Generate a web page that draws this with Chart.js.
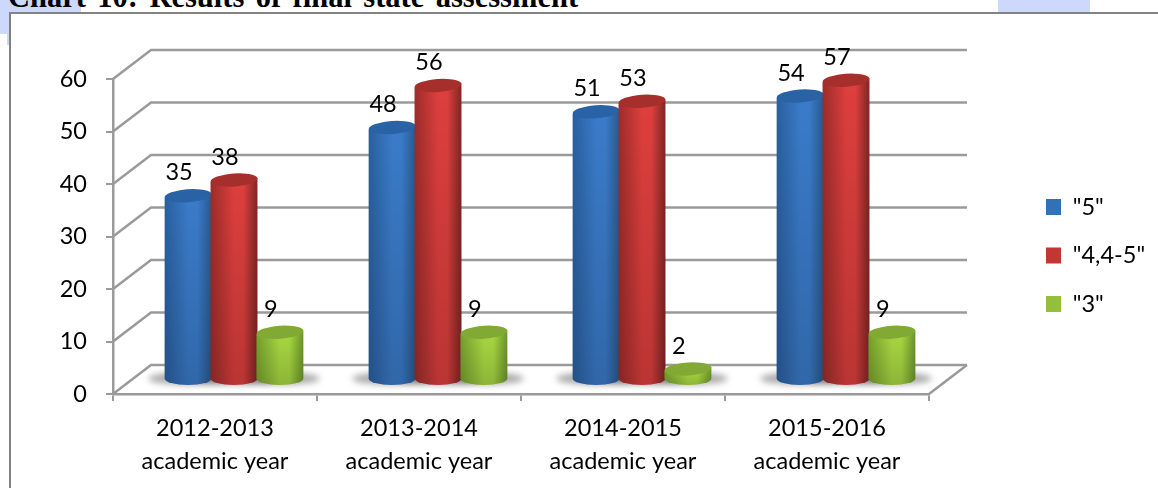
<!DOCTYPE html>
<html>
<head>
<meta charset="utf-8">
<title>Chart 10</title>
<script src="https://cdn.jsdelivr.net/npm/chart.js@4"></script>
<style>
  html, body { margin: 0; padding: 0; background: #fff; overflow: hidden; }
  #page { position: relative; width: 1158px; height: 488px; overflow: hidden; }
  .patch { position: absolute; background: #ccd9fd; }
  #frame { position: absolute; left: 9px; top: 12px; width: 1300px; height: 700px; border: 2px solid #828282; }
  #heading { position: absolute; left: 8px; top: -21px; font: bold 30.5px "Liberation Serif", serif; color: #000; white-space: nowrap; word-spacing: 3.8px; line-height: 36px; }
  canvas { position: absolute; left: 0; top: 0; }
</style>
</head>
<body>
<div id="page">
  <div class="patch" style="left:0;top:0;width:81px;height:12px"></div>
  <div class="patch" style="left:0;top:12px;width:9px;height:22px"></div>
  <div class="patch" style="left:7px;top:34px;width:2px;height:11px"></div>
  <div class="patch" style="left:998px;top:0;width:92px;height:12px"></div>
  <div id="frame"></div>
  <div id="heading">Chart 10: Results of final state assessment</div>
  <canvas id="chart" width="1158" height="488"></canvas>
</div>
<script>
const categories = [
  ['2012-2013', 'academic year'],
  ['2013-2014', 'academic year'],
  ['2014-2015', 'academic year'],
  ['2015-2016', 'academic year'],
]
const seriesNames = ['"5"', '"4,4-5"', '"3"']
const grade5 = [35, 48, 51, 54]
const grade4 = [38, 56, 53, 57]
const grade3 = [9, 9, 2, 9]
const yTicks = [0, 10, 20, 30, 40, 50, 60]

// edge / centre / cap colours of each cylinder
const shades = [
  { left: '#2a5f9f', mid: '#3a7bc9', right: '#28598f', cap: '#2a62a6', legend: '#3270b8' },
  { left: '#9c2c2a', mid: '#dd3f3d', right: '#7f2624', cap: '#a62f2c', legend: '#c43633' },
  { left: '#76a02e', mid: '#a7d842', right: '#6d962b', cap: '#82a934', legend: '#94bf38' },
]

const font = 'Lato, sans-serif'
const fontSize = 23.5
const legendPadding = 25
const lineColor = '#9a9a9a'

// how far the back wall sits behind the front plane
const depthX = 38
const depthY = 29

function strokePath(ctx, points) {
  ctx.beginPath()
  points.forEach((p, i) => (i ? ctx.lineTo(p[0], p[1]) : ctx.moveTo(p[0], p[1])))
  ctx.stroke()
}

const wallPlugin = {
  id: 'wall',
  beforeDraw(chart) {
    const { ctx, chartArea, scales } = chart
    const { left, right } = chartArea
    ctx.save()
    ctx.strokeStyle = lineColor
    ctx.lineWidth = 2.5
    yTicks.forEach((v) => {
      const y = scales.y.getPixelForValue(v)
      strokePath(ctx, [
        [left, y],
        [left + depthX, y - depthY],
        [right + depthX, y - depthY],
      ])
    })
    const y0 = scales.y.getPixelForValue(0)
    strokePath(ctx, [
      [right + depthX, y0 - depthY],
      [right, y0],
    ])
    ctx.restore()
  },
  afterLayout(chart) {
    // legend sits out in the right margin, away from the chart area
    const legend = chart.legend
    const w = legend.width
    const h = legend.height
    legend.left = 1046 - legendPadding
    legend.right = legend.left + w
    legend.top = 199 - legendPadding - (fontSize - 16) / 2
    legend.bottom = legend.top + h
  },
}

function drawCylinder(ctx, bar, shade) {
  const dx = depthX / 2
  const dy = depthY / 2
  const cx = bar.x + dx
  const r = bar.width / 2 + 0.5
  const ry = 6.5
  const tilt = -0.07
  const top = bar.y - dy
  const bottom = bar.base - dy

  ctx.save()
  const side = ctx.createLinearGradient(cx - r, 0, cx + r, 0)
  side.addColorStop(0, shade.left)
  side.addColorStop(0.5, shade.mid)
  side.addColorStop(0.7, shade.mid)
  side.addColorStop(1, shade.right)
  ctx.fillStyle = side
  ctx.beginPath()
  ctx.moveTo(cx - r, top + 2)
  ctx.lineTo(cx - r, bottom)
  ctx.ellipse(cx, bottom, r, ry, 0, Math.PI, 0, true)
  ctx.lineTo(cx + r, top - 2)
  ctx.closePath()
  ctx.fill()

  const fade = ctx.createLinearGradient(0, top, 0, bottom + ry)
  fade.addColorStop(0, 'rgba(0,0,0,0)')
  fade.addColorStop(1, 'rgba(0,0,0,0.16)')
  ctx.fillStyle = fade
  ctx.fill()

  ctx.fillStyle = shade.cap
  ctx.beginPath()
  ctx.ellipse(cx, top, r, ry, tilt, 0, Math.PI * 2)
  ctx.fill()
  ctx.restore()
}

const cylinderPlugin = {
  id: 'cylinders',
  beforeDatasetsDraw(chart) {
    const { ctx } = chart
    const metas = chart.data.datasets.map((d, i) => chart.getDatasetMeta(i))

    // soft shadow on the floor
    ctx.save()
    ctx.filter = 'blur(3px)'
    ctx.fillStyle = 'rgba(60,60,60,0.42)'
    metas.forEach((meta) => {
      meta.data.forEach((bar) => {
        ctx.beginPath()
        ctx.ellipse(bar.x + depthX / 2, bar.base - depthY / 2, bar.width / 2 + 17, 6.5, 0, 0, Math.PI * 2)
        ctx.fill()
      })
    })
    ctx.restore()

    metas.forEach((meta, s) => {
      meta.data.forEach((bar) => drawCylinder(ctx, bar, shades[s]))
    })

    // value labels
    ctx.save()
    ctx.font = fontSize + 'px ' + font
    ctx.fillStyle = '#000'
    ctx.textAlign = 'center'
    ctx.textBaseline = 'middle'
    metas.forEach((meta, s) => {
      meta.data.forEach((bar, i) => {
        const value = chart.data.datasets[s].data[i]
        ctx.fillText(value, bar.x + depthX / 2 - 9, bar.y - depthY / 2 - 23)
      })
    })
    ctx.restore()
    return false
  },
}

function makeDataset(label, data, i) {
  return {
    label,
    data,
    backgroundColor: shades[i].legend,
    borderWidth: 0,
    barPercentage: 1,
    categoryPercentage: 0.675,
  }
}

new Chart(document.getElementById('chart'), {
  type: 'bar',
  data: {
    labels: categories,
    datasets: [
      makeDataset(seriesNames[0], grade5, 0),
      makeDataset(seriesNames[1], grade4, 1),
      makeDataset(seriesNames[2], grade3, 2),
    ],
  },
  options: {
    responsive: false,
    animation: false,
    layout: { padding: { top: 79, right: 229, left: 0, bottom: 0 } },
    plugins: {
      tooltip: { enabled: false },
      title: { display: false },
      legend: {
        display: true,
        position: 'chartArea',
        align: 'start',
        labels: {
          boxWidth: 15,
          boxHeight: 16,
          padding: legendPadding,
          color: '#000',
          font: { family: font, size: fontSize },
        },
      },
    },
    scales: {
      x: {
        afterFit(scale) {
          scale.height = 94
        },
        border: { color: lineColor, width: 2.5 },
        grid: { drawOnChartArea: false, tickLength: 7, color: lineColor, lineWidth: 2 },
        ticks: {
          color: '#000',
          padding: 11,
          maxRotation: 0,
          autoSkip: false,
          font: { family: font, size: fontSize, lineHeight: 1.4 },
        },
      },
      y: {
        min: 0,
        max: 60,
        afterFit(scale) {
          scale.width = 113
        },
        border: { color: lineColor, width: 2.5 },
        grid: { drawOnChartArea: false, tickLength: 7, color: lineColor, lineWidth: 2 },
        ticks: {
          stepSize: 10,
          color: '#000',
          padding: 19,
          font: { family: font, size: fontSize },
        },
      },
    },
  },
  plugins: [wallPlugin, cylinderPlugin],
})
</script>
</body>
</html>
